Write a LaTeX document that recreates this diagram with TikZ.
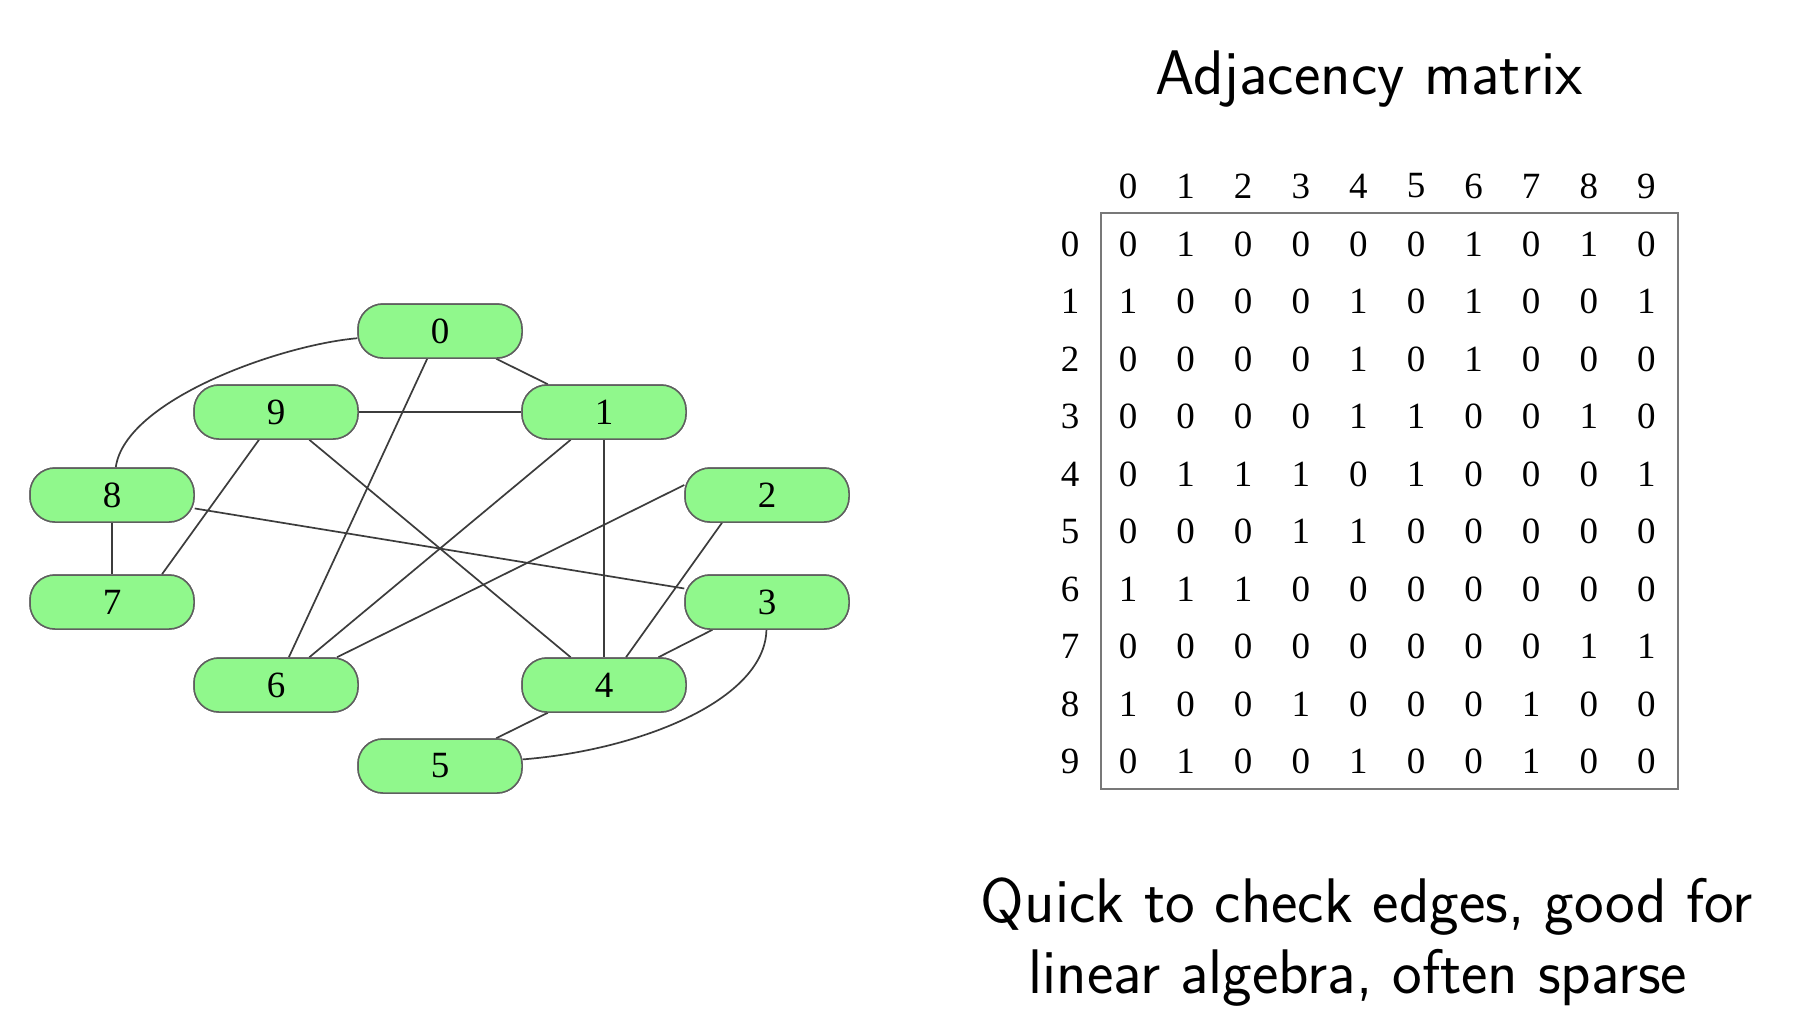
\documentclass[tikz,border=0pt]{standalone}
\usepackage{fontspec}
\newfontfamily\tnr{Liberation Serif}
\definecolor{nodegreen}{RGB}{144,248,140}
\definecolor{nodeborder}{RGB}{95,95,95}
\definecolor{edgegray}{RGB}{60,60,60}
\definecolor{boxgray}{RGB}{120,120,120}
\begin{document}
\begin{tikzpicture}[x=1pt,y=-1pt,
  vtx/.style={draw=nodeborder, line width=1.5pt, fill=nodegreen, rounded corners=25pt,
    minimum width=164pt, minimum height=54pt, inner sep=0pt, font=\tnr\fontsize{37}{37}\selectfont},
  edge/.style={draw=edgegray, line width=1.7pt},
  cell/.style={font=\tnr\fontsize{37}{37}\selectfont, inner sep=0pt},
  bigtext/.style={font=\sffamily\fontsize{63}{71}\selectfont, inner sep=0pt, anchor=base}]
\useasboundingbox[fill=white] (0,0) rectangle (1796,1028);

% graph nodes (positions)
\node[vtx] (n0) at (440,331) {0};
\node[vtx] (n9) at (276,412) {9};
\node[vtx] (n1) at (604,412) {1};
\node[vtx] (n8) at (112,495) {8};
\node[vtx] (n2) at (767,495) {2};
\node[vtx] (n7) at (112,602) {7};
\node[vtx] (n3) at (767,602) {3};
\node[vtx] (n6) at (276,685) {6};
\node[vtx] (n4) at (604,685) {4};
\node[vtx] (n5) at (440,766) {5};

% edges
\draw[edge] (n0) -- (n1);
\draw[edge] (n0) -- (n6);
\draw[edge] (n0) .. controls (280,345) and (125,400) .. (n8);
\draw[edge] (n9) -- (n1);
\draw[edge] (n1) -- (n6);
\draw[edge] (n1) -- (n4);
\draw[edge] (n9) -- (n4);
\draw[edge] ([xshift=-17pt]n9.south) -- ([xshift=50pt]n7.north);
\draw[edge] (n8) -- (n7);
\draw[edge] (n8) -- (n3);
\draw[edge] ([yshift=10pt]n2.west) -- ([xshift=61pt]n6.north);
\draw[edge] ([xshift=-45pt]n2.south) -- ([xshift=22pt]n4.north);
\draw[edge] (n3) -- (n4);
\draw[edge] (n4) -- (n5);
\draw[edge] (n3) .. controls (765,700) and (640,750) .. (n5);

% nodes again, on top of the edges
\foreach \n in {0,...,9} {
  \node[vtx] at (n\n) {\n};
}

% title
\node[bigtext] (title) at (1369,94) {Adjacency matrix};

% matrix
\draw[draw=boxgray, line width=2.4pt] (1101,213) rectangle (1678,789);
\foreach \c in {0,...,9} {
  \node[cell] (h\c) at (1128+57.6*\c,186) {\c};
  \node[cell] (r\c) at (1070,244+57.5*\c) {\c};
}
\foreach \row [count=\r from 0] in {
  {0,1,0,0,0,0,1,0,1,0},
  {1,0,0,0,1,0,1,0,0,1},
  {0,0,0,0,1,0,1,0,0,0},
  {0,0,0,0,1,1,0,0,1,0},
  {0,1,1,1,0,1,0,0,0,1},
  {0,0,0,1,1,0,0,0,0,0},
  {1,1,1,0,0,0,0,0,0,0},
  {0,0,0,0,0,0,0,0,1,1},
  {1,0,0,1,0,0,0,1,0,0},
  {0,1,0,0,1,0,0,1,0,0}} {
  \foreach \v [count=\c from 0] in \row {
    \node[cell] (m\r-\c) at (1128+57.6*\c,244+57.5*\r) {\v};
  }
}

% caption
\node[bigtext] (cap1) at (1367,922) {Quick to check edges, good for};
\node[bigtext] (cap2) at (1358,993) {linear algebra, often sparse};
\end{tikzpicture}
\end{document}
